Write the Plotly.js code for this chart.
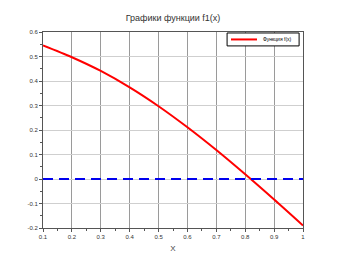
<!DOCTYPE html>
<html><head><meta charset="utf-8">
<script src="https://cdn.plot.ly/plotly-3.0.1.min.js"></script>
<style>html,body{margin:0;padding:0;background:#fff}#c{width:346px;height:261px}</style>
</head><body><div id="c"></div>
<script>
const xVals = [0.1, 0.2, 0.3, 0.4, 0.5, 0.6, 0.7, 0.8, 0.9, 1.0];
const fVals = [0.545, 0.497, 0.441, 0.374, 0.297, 0.211, 0.118, 0.019, -0.084, -0.19];
const zeroX = [0.1, 1.0];
const zeroY = [0, 0];
const seriesName = "Функция f(x)";
const titleText = "Графики функции f1(x)";
const xTitle = "X";

const traces = [
  {x: xVals, y: fVals, type: 'scatter', mode: 'lines', name: seriesName, showlegend: false,
   line: {color: '#ff0000', width: 2, shape: 'spline', smoothing: 0.8}},
  {x: zeroX, y: zeroY, type: 'scatter', mode: 'lines', showlegend: false,
   line: {color: '#0000ee', width: 2.2, dash: '10px,6px'}}
];
const fontFam = 'Liberation Sans, Arial, sans-serif';
const fnt = {family: fontFam, size: 6, color: '#333'};
const layout = {
  width: 346, height: 261,
  margin: {l: 43, r: 43, t: 32, b: 33},
  paper_bgcolor: '#fff', plot_bgcolor: '#fff',
  title: {text: titleText, x: 0.5, xanchor: 'center', y: 0.93, yanchor: 'middle',
          font: {family: fontFam, size: 9, color: '#333'}},
  showlegend: false,
  shapes: [
    {type: 'rect', xref: 'paper', yref: 'paper', x0: 0.708, x1: 0.985, y0: 0.929, y1: 0.995,
     line: {color: '#000', width: 1}, fillcolor: '#fff', layer: 'above'},
    {type: 'line', xref: 'paper', yref: 'paper', x0: 0.723, x1: 0.823, y0: 0.962, y1: 0.962,
     line: {color: '#ff0000', width: 2}, layer: 'above'}
  ],
  annotations: [
    {xref: 'paper', yref: 'paper', x: 0.84, y: 0.962, xanchor: 'left', yanchor: 'middle',
     text: seriesName, showarrow: false, font: {family: fontFam, size: 5, color: '#000'}}
  ],
  xaxis: {range: [0.1, 1], tickvals: [0.1,0.2,0.3,0.4,0.5,0.6,0.7,0.8,0.9,1],
          ticktext: ['0.1','0.2','0.3','0.4','0.5','0.6','0.7','0.8','0.9','1'],
          showgrid: true, gridcolor: '#9a9a9a', gridwidth: 1,
          showline: true, linecolor: '#555', mirror: true, linewidth: 1,
          ticks: 'outside', ticklen: 3, tickcolor: '#555',
          minor: {dtick: 0.05, ticks: 'outside', ticklen: 2, tickcolor: '#555', showgrid: false},
          zeroline: false, tickfont: fnt,
          title: {text: xTitle, font: {family: fontFam, size: 8, color: '#444'}, standoff: 6}},
  yaxis: {range: [-0.2, 0.6], tickvals: [-0.2,-0.1,0,0.1,0.2,0.3,0.4,0.5,0.6],
          ticktext: ['-0.2','-0.1','0','0.1','0.2','0.3','0.4','0.5','0.6'],
          showgrid: true, gridcolor: '#cfcfcf', gridwidth: 1,
          showline: true, linecolor: '#555', mirror: true, linewidth: 1,
          ticks: 'outside', ticklen: 3, tickcolor: '#555',
          minor: {dtick: 0.05, ticks: 'outside', ticklen: 2, tickcolor: '#555', showgrid: false},
          zeroline: false, tickfont: fnt}
};
Plotly.newPlot('c', traces, layout, {displayModeBar: false, staticPlot: true});
</script></body></html>
